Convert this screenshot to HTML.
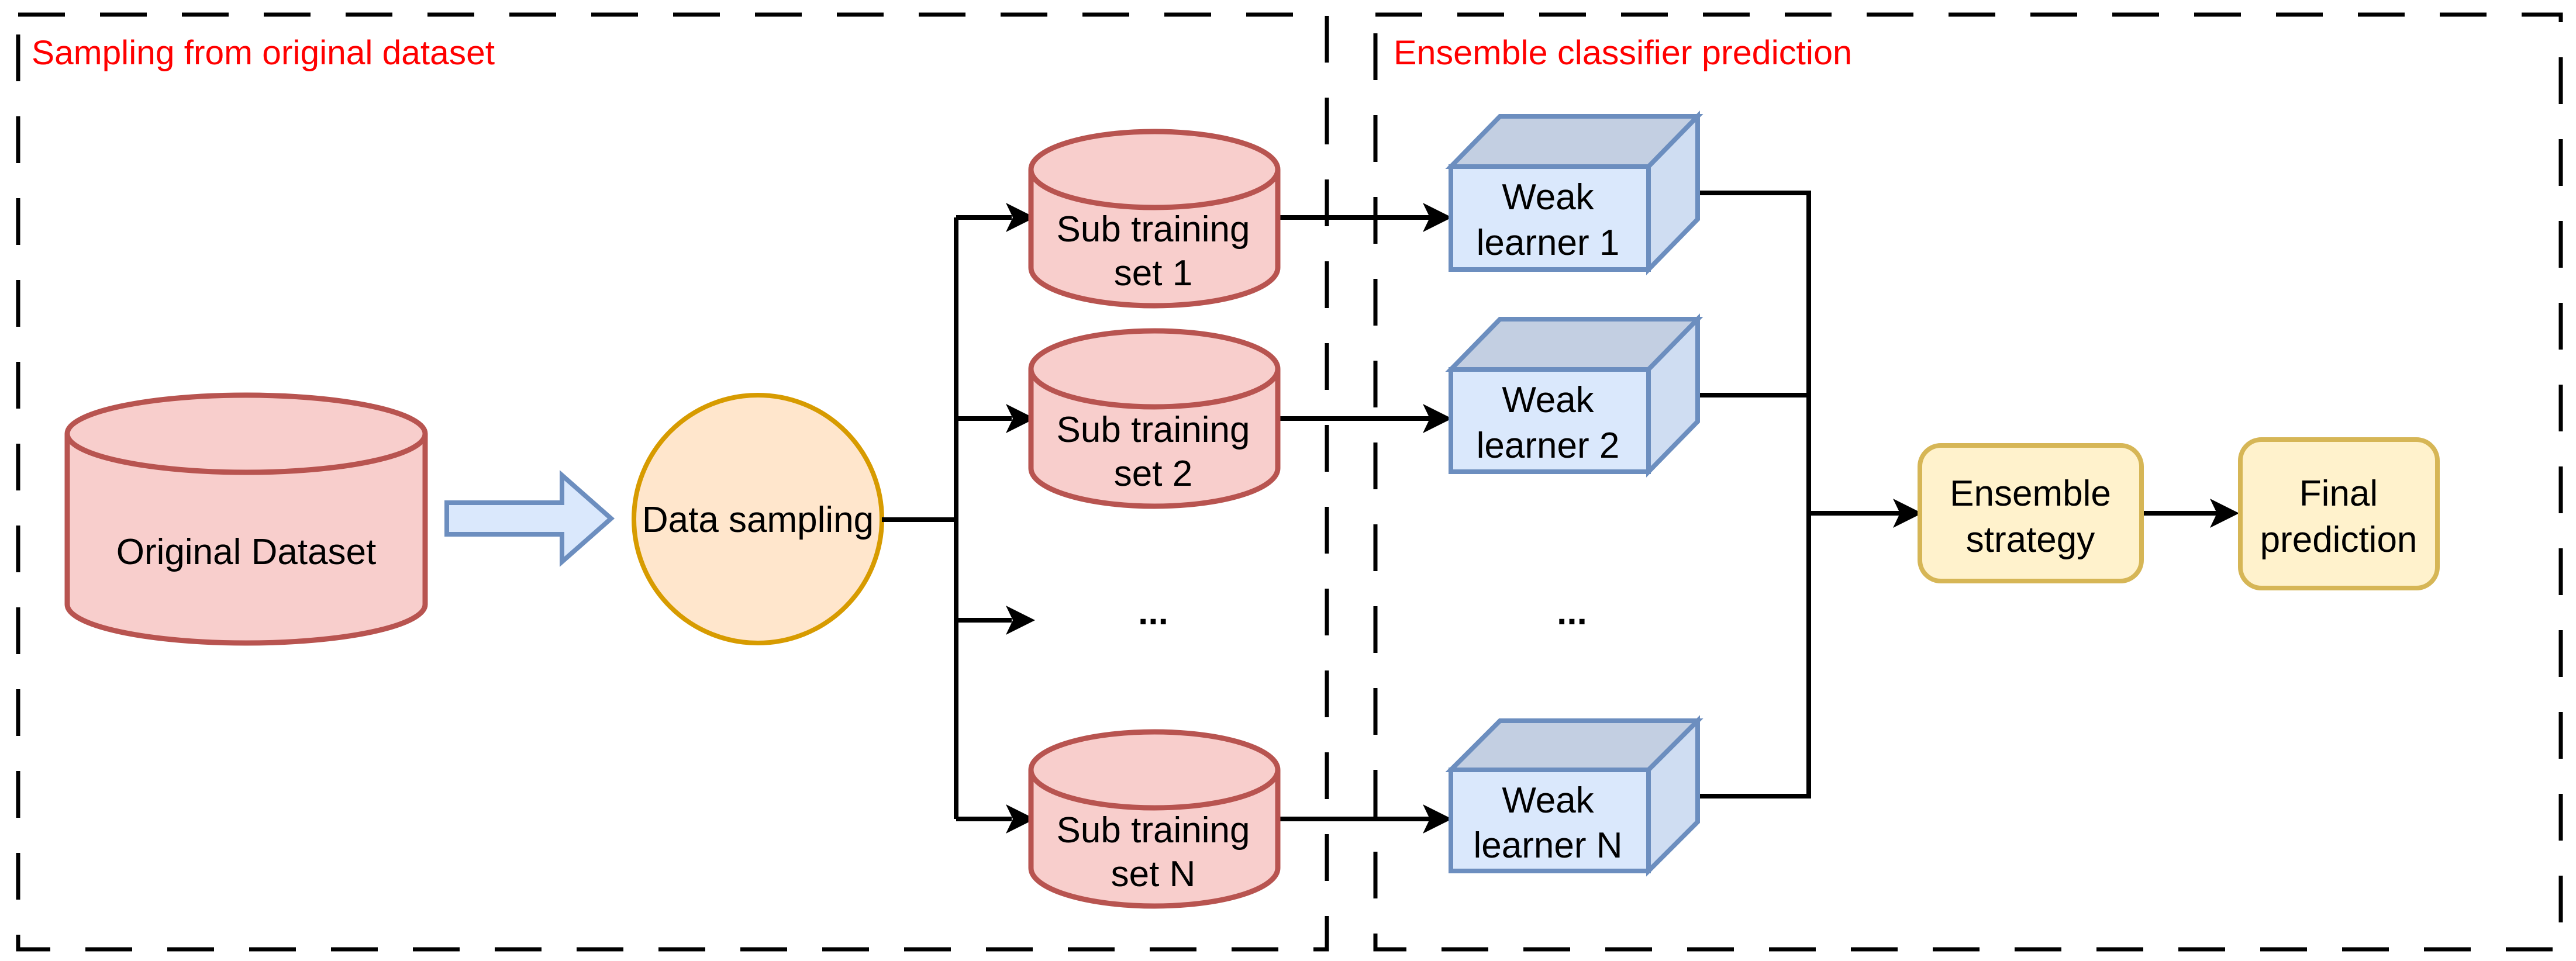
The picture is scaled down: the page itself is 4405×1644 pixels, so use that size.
<!DOCTYPE html>
<html><head><meta charset="utf-8"><style>
html,body{margin:0;padding:0;background:#fff;}
svg{display:block;}
text{font-family:"Liberation Sans",Arial,sans-serif;}
</style></head><body>
<svg width="4405" height="1644" viewBox="0 0 4405 1644" xmlns="http://www.w3.org/2000/svg">
<!-- dashed regions -->
<g fill="none" stroke="#000" stroke-width="7" stroke-dasharray="80 60">
<rect x="31" y="25" width="2238" height="1599"/>
<rect x="2352" y="25" width="2027" height="1599"/>
</g>
<text x="54" y="110" font-size="58" fill="#ff0000" textLength="792" lengthAdjust="spacingAndGlyphs">Sampling from original dataset</text>
<text x="2383" y="110" font-size="58" fill="#ff0000" textLength="784" lengthAdjust="spacingAndGlyphs">Ensemble classifier prediction</text>

<!-- Original dataset cylinder -->
<g fill="#f8cecc" stroke="#b85450" stroke-width="9">
<path d="M115 742 L115 1034 A306 66 0 0 0 727 1034 L727 742"/>
<ellipse cx="421" cy="742" rx="306" ry="66"/>
</g>
<text x="421" y="965" font-size="62" text-anchor="middle">Original Dataset</text>

<!-- blue arrow -->
<path d="M764 860 L961 860 L961 813 L1045 887 L961 961 L961 914 L764 914 Z" fill="#dae8fc" stroke="#6c8ebf" stroke-width="8"/>

<!-- data sampling -->
<ellipse cx="1296" cy="888" rx="212" ry="212" fill="#ffe6cc" stroke="#d79b00" stroke-width="8"/>
<text x="1296" y="910" font-size="62" text-anchor="middle">Data sampling</text>

<!-- connectors -->
<g fill="none" stroke="#000" stroke-width="8">
<path d="M1508 889 L1635 889"/>
<path d="M1635 372 L1635 1401"/>
<path d="M1635 372 L1730 372"/>
<path d="M1635 716 L1730 716"/>
<path d="M1635 1061 L1730 1061"/>
<path d="M1635 1401 L1730 1401"/>
<path d="M2185 372 L2445 372"/>
<path d="M2185 716 L2445 716"/>
<path d="M2185 1401 L2445 1401"/>
<path d="M2903 330 L3093 330 L3093 1362 L2903 1362"/>
<path d="M2903 676 L3093 676"/>
<path d="M3093 878 L3250 878"/>
<path d="M3662 878 L3792 878"/>
</g>
<g fill="#000">
<path d="M1770 372 L1720 347 L1732 372 L1720 397 Z"/>
<path d="M1770 716 L1720 691 L1732 716 L1720 741 Z"/>
<path d="M1770 1061 L1720 1036 L1732 1061 L1720 1086 Z"/>
<path d="M1770 1401 L1720 1376 L1732 1401 L1720 1426 Z"/>
<path d="M2483 372 L2433 347 L2445 372 L2433 397 Z"/>
<path d="M2483 716 L2433 691 L2445 716 L2433 741 Z"/>
<path d="M2483 1401 L2433 1376 L2445 1401 L2433 1426 Z"/>
<path d="M3287 878 L3237 853 L3249 878 L3237 903 Z"/>
<path d="M3829 878 L3779 853 L3791 878 L3779 903 Z"/>
</g>

<!-- sub training cylinders -->
<g fill="#f8cecc" stroke="#b85450" stroke-width="9">
<path d="M1763 290 L1763 458 A211 65 0 0 0 2185 458 L2185 290"/>
<ellipse cx="1974" cy="290" rx="211" ry="65"/>
<path d="M1763 631 L1763 801 A211 65 0 0 0 2185 801 L2185 631"/>
<ellipse cx="1974" cy="631" rx="211" ry="65"/>
<path d="M1763 1317 L1763 1485 A211 65 0 0 0 2185 1485 L2185 1317"/>
<ellipse cx="1974" cy="1317" rx="211" ry="65"/>
</g>
<g font-size="62" text-anchor="middle">
<text x="1972" y="413">Sub training</text><text x="1972" y="488">set 1</text>
<text x="1972" y="756">Sub training</text><text x="1972" y="831">set 2</text>
<text x="1972" y="1441">Sub training</text><text x="1972" y="1516">set N</text>
<text x="1972" y="1068" font-weight="bold">...</text>
<text x="2688" y="1068" font-weight="bold">...</text>
</g>

<!-- weak learner cubes -->
<g stroke="#6c8ebf" stroke-width="8" stroke-linejoin="miter">
<g>
<path d="M2481 285 L2565 199 L2903 199 L2819 285 Z" fill="#c3cfe2"/>
<path d="M2819 285 L2903 199 L2903 375 L2819 461 Z" fill="#cfddf2"/>
<rect x="2481" y="285" width="338" height="176" fill="#dae8fc"/>
</g>
<g>
<path d="M2481 632 L2565 546 L2903 546 L2819 632 Z" fill="#c3cfe2"/>
<path d="M2819 632 L2903 546 L2903 721 L2819 807 Z" fill="#cfddf2"/>
<rect x="2481" y="632" width="338" height="175" fill="#dae8fc"/>
</g>
<g>
<path d="M2481 1317 L2565 1233 L2903 1233 L2819 1317 Z" fill="#c3cfe2"/>
<path d="M2819 1317 L2903 1233 L2903 1406 L2819 1490 Z" fill="#cfddf2"/>
<rect x="2481" y="1317" width="338" height="173" fill="#dae8fc"/>
</g>
</g>
<g font-size="62" text-anchor="middle">
<text x="2647" y="358">Weak</text><text x="2647" y="436">learner 1</text>
<text x="2647" y="705">Weak</text><text x="2647" y="783">learner 2</text>
<text x="2647" y="1390">Weak</text><text x="2647" y="1467">learner N</text>
</g>

<!-- ensemble & final -->
<rect x="3283" y="762" width="379" height="232" rx="36" fill="#fff2cc" stroke="#d6b656" stroke-width="8"/>
<rect x="3831" y="752" width="337" height="254" rx="36" fill="#fff2cc" stroke="#d6b656" stroke-width="8"/>
<g font-size="62" text-anchor="middle">
<text x="3472" y="865">Ensemble</text><text x="3472" y="944">strategy</text>
<text x="3999" y="865">Final</text><text x="3999" y="944">prediction</text>
</g>
</svg>
</body></html>
